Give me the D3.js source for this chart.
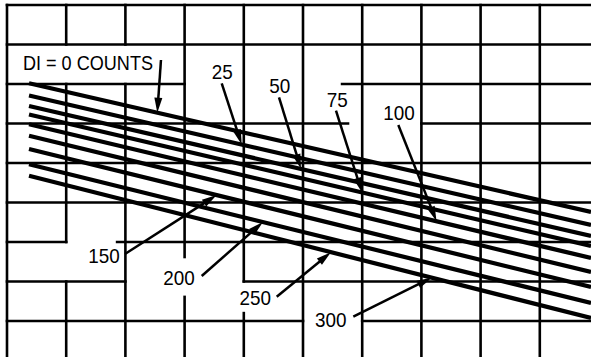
<!DOCTYPE html>
<html><head><meta charset="utf-8">
<script src="https://cdn.jsdelivr.net/npm/d3@7"></script>
<style>html,body{margin:0;padding:0;background:#fff;overflow:hidden;} svg{display:block;}</style>
</head><body>
<svg id="chart" width="591" height="357"></svg>
<script>
// ---- data (grid units) ----
const diCounts = [0, 25, 50, 75, 100, 150, 200, 250, 300];
const lineStartLevel = [1.982, 2.291, 2.557, 2.772, 3.020, 3.309, 3.646, 4.033, 4.322];
const lineEndLevel   = [5.241, 5.570, 5.848, 6.101, 6.405, 6.759, 7.139, 7.544, 7.924];
const lineStartPos = 0.372;
const lineEndPos = 9.865;

const labelText = ["DI = 0 COUNTS", "25", "50", "75", "100", "150", "200", "250", "300"];
const labelPosX = [0.270, 3.458, 4.431, 5.400, 6.356, 1.373, 2.640, 3.927, 5.203];
const labelPosY = [1.658, 1.881, 2.220, 2.570, 2.911, 6.539, 7.089, 7.595, 8.144];
const arrowTailX = [2.601, 3.627, 4.595, 5.557, 6.610, 1.993, 3.289, 4.556, 5.850];
const arrowTailY = [1.392, 1.982, 2.337, 2.676, 3.038, 6.304, 6.861, 7.385, 7.891];
const arrowTipX  = [2.539, 3.964, 4.966, 5.997, 7.255, 3.542, 4.324, 5.473, 7.174];
const arrowTipLine = [0, 1, 2, 3, 4, 6, 7, 8, 8];

// grid segments: rows (y level) with x spans; columns (x pos) with y spans
const gridRows = [0, 1, 2, 3, 4, 5, 6, 7, 8];
const rowSpans = [
  [[0, 10]], [[0, 10]], [[0, 3], [5.66, 10]], [[0, 5.76], [7, 10]],
  [[0, 10]], [[0, 10]], [[0, 1], [1.86, 10]], [[0, 2], [4, 10]], [[0, 5], [6, 10]]
];
const gridCols = [0, 1, 2, 3, 4, 5, 6, 7, 8, 9];
const colSpans = [
  [[0, 9.2]], [[0, 1], [2, 6], [7, 9.2]], [[0, 1], [2, 9.2]], [[0, 6.38], [7.39, 9.2]],
  [[0, 7], [7.8, 9.2]], [[0, 9.2]], [[0, 9.2]], [[0, 9.2]], [[0, 9.2]], [[0, 9.2]]
];

// ---- drawing ----
const W = 591, H = 357;
const svg = d3.select("#chart");
const x = d3.scaleLinear().domain([0, 10]).range([7, 599]);
const y = d3.scaleLinear().domain([0, 9]).range([5, 360.5]);

const gridSegs = [];
gridRows.forEach((r, i) => rowSpans[i].forEach(s => gridSegs.push({x1: x(s[0]), x2: x(s[1]), y1: y(r), y2: y(r)})));
gridCols.forEach((c, i) => colSpans[i].forEach(s => gridSegs.push({x1: x(c), x2: x(c), y1: y(s[0]), y2: y(s[1])})));

svg.append("g").selectAll("line").data(gridSegs).join("line")
  .attr("x1", d => d.x1).attr("x2", d => d.x2).attr("y1", d => d.y1).attr("y2", d => d.y2)
  .attr("stroke", "#000").attr("stroke-width", 2.6).attr("stroke-linecap", "square");

const lines = diCounts.map((v, i) => ({v, y0: lineStartLevel[i], y1: lineEndLevel[i]}));
svg.append("g").selectAll("line").data(lines).join("line")
  .attr("x1", x(lineStartPos)).attr("x2", x(lineEndPos))
  .attr("y1", d => y(d.y0)).attr("y2", d => y(d.y1))
  .attr("stroke", "#000").attr("stroke-width", 4.2).attr("stroke-linecap", "butt");

function levelAt(li, px) {
  const t = (px - lineStartPos) / (lineEndPos - lineStartPos);
  return lineStartLevel[li] + (lineEndLevel[li] - lineStartLevel[li]) * t;
}

const ann = labelText.map((t, i) => ({
  t, lx: x(labelPosX[i]), ly: y(labelPosY[i]),
  ax: x(arrowTailX[i]), ay: y(arrowTailY[i]),
  bx: x(arrowTipX[i]), by: y(levelAt(arrowTipLine[i], arrowTipX[i]))
}));

const ag = svg.append("g");
ann.forEach(d => {
  const dx = d.bx - d.ax, dy = d.by - d.ay, L = Math.hypot(dx, dy);
  const ux = dx / L, uy = dy / L, hl = 15, hw = 4;
  const bx = d.bx - ux * hl, by = d.by - uy * hl;
  ag.append("line").attr("x1", d.ax).attr("y1", d.ay).attr("x2", bx + ux * 2).attr("y2", by + uy * 2)
    .attr("stroke", "#000").attr("stroke-width", 2.5);
  ag.append("path")
    .attr("d", `M${d.bx},${d.by}L${bx - uy * hw},${by + ux * hw}L${bx + uy * hw},${by - ux * hw}Z`)
    .attr("fill", "#000");
});

svg.append("g").selectAll("text").data(ann).join("text")
  .attr("x", d => d.lx).attr("y", d => d.ly)
  .attr("font-family", "'Liberation Sans', Arial, sans-serif").attr("font-size", 21)
  .attr("textLength", d => d.t.length > 4 ? 130 : d.t.length * 10.5)
  .attr("lengthAdjust", "spacingAndGlyphs")
  .attr("fill", "#000")
  .text(d => d.t);
</script>
</body></html>
